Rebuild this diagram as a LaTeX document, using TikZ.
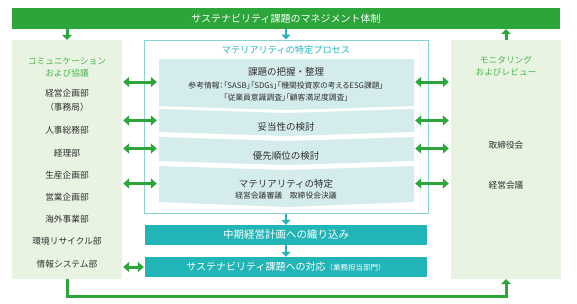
\documentclass[tikz,border=0pt]{standalone}
\usepackage{fontspec}
\setmainfont{Noto Sans CJK JP}
\newfontfamily\paltfont[RawFeature=+palt]{Noto Sans CJK JP}
\usetikzlibrary{arrows.meta}
\definecolor{bgreen}{HTML}{2CA53B}
\definecolor{lgreen}{HTML}{E8F3E2}
\definecolor{tgreen}{HTML}{4CB44C}
\definecolor{teal}{HTML}{22B5B8}
\definecolor{lteal}{HTML}{D4ECEC}
\definecolor{bteal}{HTML}{86D4D4}
\definecolor{txt}{HTML}{303030}
\newcommand{\fs}[1]{\fontsize{#1}{#1}\selectfont}
\tikzset{
  panel/.style={fill=lgreen, draw=none, minimum width=110pt, minimum height=239pt, inner sep=0pt},
  inv/.style={draw=none, inner sep=0pt},
  ttl/.style={text=tgreen, font=\fontsize{8.7}{12}\selectfont, align=center, inner sep=0pt},
  dept/.style={text=txt, font=\fontsize{8.7}{14}\selectfont, align=center, inner sep=0pt},
  steptxt/.style={text=txt, font=\fontsize{9.5}{11}\selectfont, align=center, inner sep=0pt},
  smalltxt/.style={text=txt, font=\paltfont\fontsize{7.8}{12}\selectfont, align=center, inner sep=0pt},
  tealbox/.style={fill=teal, draw=none, minimum width=282pt, minimum height=20pt, inner sep=0pt, text=white},
  dbl/.style={draw=bgreen, line width=3pt, {Triangle[length=6pt,width=10pt]}-{Triangle[length=6pt,width=10pt]}},
  gsingle/.style={draw=bgreen, line width=3pt, -{Triangle[length=5pt,width=10pt]}},
  tsingle/.style={draw=teal, line width=2pt, -{Triangle[length=5pt,width=9pt]}},
}
\begin{document}
\begin{tikzpicture}[x=1pt,y=-1pt]
\useasboundingbox (0,0) rectangle (577,303);
% banner
\node[fill=bgreen, minimum width=548pt, minimum height=21pt, inner sep=0pt, text=white, font=\fs{10}] (bn) at (286,18.5) {サステナビリティ課題のマネジメント体制};
% panels
\node[panel] (lp) at (67,159.5) {};
\node[panel] (rp) at (506,159.5) {};
% middle box
\node[draw=bteal, line width=1pt, fill=white, minimum width=284pt, minimum height=173pt, inner sep=0pt] (mb) at (286,126.5) {};
\node[text=teal, font=\fs{9.2}, inner sep=0pt] (mt) at (286,50) {マテリアリティの特定プロセス};
% steps
\fill[lteal] (159,59) -- (414,59) -- (414,106) -- (286.5,110) -- (159,106) -- cycle;
\fill[lteal] (159,109) -- (286.5,113) -- (414,109) -- (414,132) -- (286.5,136) -- (159,132) -- cycle;
\fill[lteal] (159,137) -- (286.5,141) -- (414,137) -- (414,161) -- (286.5,165) -- (159,161) -- cycle;
\fill[lteal] (159,166) -- (286.5,170) -- (414,166) -- (414,202) -- (286.5,207) -- (159,202) -- cycle;
\node[inv, minimum width=255pt, minimum height=47pt] (s1) at (286.5,82) {};
\node[inv, minimum width=255pt, minimum height=23pt] (s2) at (286.5,120.5) {};
\node[inv, minimum width=255pt, minimum height=24pt] (s3) at (286.5,148.5) {};
\node[inv, minimum width=255pt, minimum height=36pt] (s4) at (286.5,183.5) {};
\node[steptxt] (s1a) at (286,72) {課題の把握・整理};
\node[smalltxt] (s1b) at (286,92) {参考情報：「SASB」「SDGs」「機関投資家の考えるESG課題」\\「従業員意識調査」「顧客満足度調査」};
\node[steptxt] (s2a) at (286,127) {妥当性の検討};
\node[steptxt] (s3a) at (286,156) {優先順位の検討};
\node[steptxt] (s4a) at (286,184) {マテリアリティの特定};
\node[smalltxt] (s4b) at (286,195.5) {経営会議審議　取締役会決議};
% teal boxes
\node[tealbox, font=\fs{10.5}] (t1) at (286,235) {中期経営計画への織り込み};
\node[tealbox, font=\fs{10}] (t2) at (286,267) {サステナビリティ課題への対応{\fs{7.5}（業務担当部門）}};
% left panel texts
\node[ttl] (lt) at (67,67) {コミュニケーション\\および協議};
\node[dept] (d1) at (67,100) {経営企画部\\（事務局）};
\node[dept] (d2) at (67,130) {人事総務部};
\node[dept] (d3) at (67,153) {経理部};
\node[dept] (d4) at (67,175) {生産企画部};
\node[dept] (d5) at (67,197) {営業企画部};
\node[dept] (d6) at (67,219) {海外事業部};
\node[dept] (d7) at (67,241) {環境リサイクル部};
\node[dept] (d8) at (67,264) {情報システム部};
% right panel texts
\node[ttl] (rt) at (506,66) {モニタリング\\およびレビュー};
\node[dept] (r1) at (506,145) {取締役会};
\node[dept] (r2) at (506,185) {経営会議};
% green double arrows
\foreach \s in {s1,s2,s3,s4}{
  \draw[dbl, shorten <=1pt, shorten >=2pt] (\s.west -| lp.east) -- (\s.west);
  \draw[dbl, shorten <=1pt, shorten >=2pt] (\s.east) -- (\s.east -| rp.west);
}
\draw[dbl, shorten <=1pt, shorten >=1pt] (t2.west -| lp.east) -- (t2.west);
% top arrows
\draw[gsingle] (bn.south -| lp.north) -- (lp.north);
\draw[tsingle] (bn.south -| mb.north) -- (mb.north);
\draw[gsingle] (rp.north) -- (rp.north |- bn.south);
% teal flow arrows
\draw[tsingle] (mb.south) -- (t1.north);
\draw[tsingle] (t1.south) -- (t2.north);
% bottom loop
\draw[gsingle] (lp.south) -- ++(0,17) -| (rp.south);
\end{tikzpicture}
\end{document}
